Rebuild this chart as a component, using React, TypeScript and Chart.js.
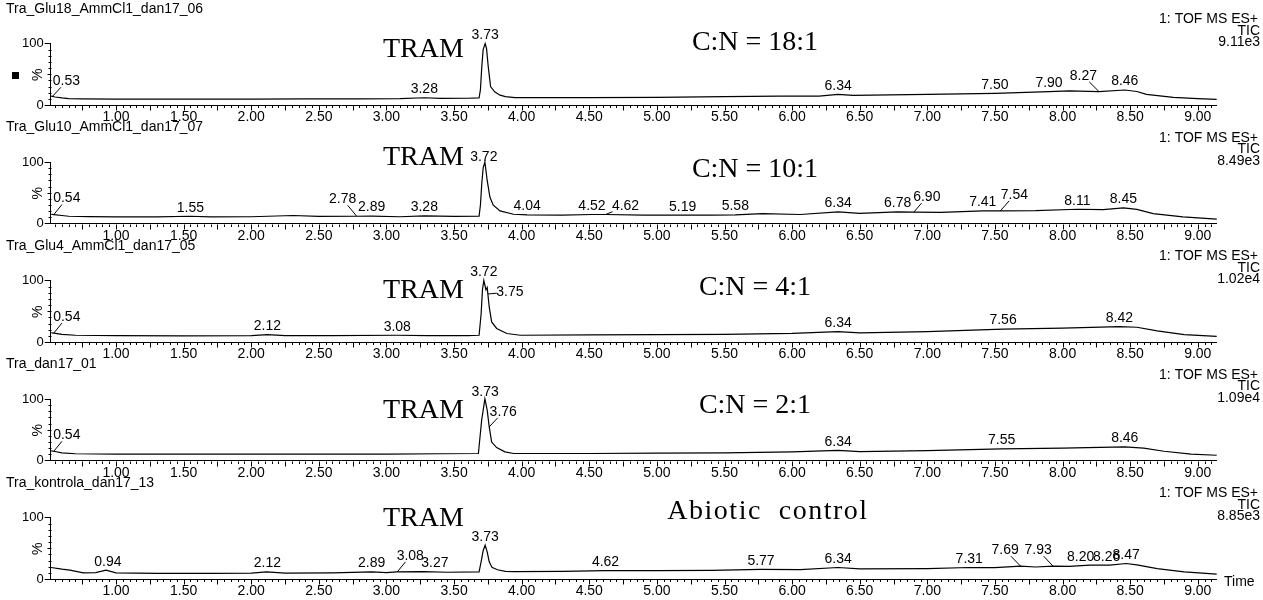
import React, { useEffect, useRef } from "react";
import { Chart, registerables } from "chart.js";

Chart.register(...registerables);

// ---------------- DATA ----------------
const sampleNames = [
  "Tra_Glu18_AmmCl1_dan17_06",
  "Tra_Glu10_AmmCl1_dan17_07",
  "Tra_Glu4_AmmCl1_dan17_05",
  "Tra_dan17_01",
  "Tra_kontrola_dan17_13",
];
const detectorLines = ["1: TOF MS ES+", "TIC"];
const intensityLabels = ["9.11e3", "8.49e3", "1.02e4", "1.09e4", "8.85e3"];
const compoundLabel = "TRAM";
const sampleCaptions = ["C:N = 18:1", "C:N = 10:1", "C:N = 4:1", "C:N = 2:1", "Abiotic  control"];
const xTickLabels = [1.0, 1.5, 2.0, 2.5, 3.0, 3.5, 4.0, 4.5, 5.0, 5.5, 6.0, 6.5, 7.0, 7.5, 8.0, 8.5, 9.0];
const yTickLabels = [0, 100];
const xAxisTitle = "Time";
const yAxisTitle = "%";

const times1 = [0.52, 0.55, 0.6, 0.65, 0.75, 1.0, 1.3, 1.6, 2.0, 2.4, 2.8, 3.1, 3.28, 3.4, 3.6, 3.685, 3.695, 3.705, 3.715, 3.73, 3.74, 3.753, 3.77, 3.8, 3.84, 3.88, 3.95, 4.5, 5.0, 5.5, 5.9, 6.2, 6.34, 6.45, 7.0, 7.5, 7.9, 8.05, 8.27, 8.46, 8.55, 8.62, 8.82, 9.0, 9.14];
const values1 = [14.5, 13, 11.5, 10.5, 10, 9.5, 9.5, 9.5, 9.6, 9.8, 10, 10.3, 11.8, 10.8, 11, 11.5, 25, 62, 90, 100, 92, 62, 30, 21.5, 16, 13.5, 12, 12, 12.5, 13.5, 14.5, 14.5, 17.3, 15.5, 17.3, 19, 21.7, 23, 21.7, 24.4, 22, 17.3, 12.5, 10.5, 9.2];
const peaks1 = [0.53, 3.28, 3.73, 6.34, 7.5, 7.9, 8.27, 8.46];

const times2 = [0.52, 0.54, 0.6, 0.65, 0.8, 1.0, 1.3, 1.55, 1.7, 2.0, 2.31, 2.5, 2.78, 2.89, 3.1, 3.28, 3.5, 3.685, 3.695, 3.705, 3.715, 3.728, 3.745, 3.765, 3.79, 3.84, 3.94, 4.04, 4.3, 4.52, 4.62, 4.9, 5.19, 5.4, 5.58, 5.78, 6.06, 6.34, 6.5, 6.78, 6.9, 7.1, 7.41, 7.54, 7.8, 8.11, 8.3, 8.45, 8.55, 8.67, 8.89, 9.14];
const values2 = [15, 14.5, 13, 11.8, 11.2, 10.8, 10.8, 11.8, 10.8, 11, 13, 11.5, 11.8, 12, 11, 12.3, 11.5, 12, 30, 65, 90, 100, 70, 43, 29.7, 20.5, 15, 14, 13.5, 14.6, 14.6, 13.5, 13.5, 13.5, 14, 16, 14.6, 18.8, 16.5, 18.8, 18.5, 18, 20.5, 20.5, 21, 23.2, 22.5, 25.3, 23, 16.2, 10.8, 7];
const peaks2 = [0.54, 1.55, 2.78, 2.89, 3.28, 3.72, 4.04, 4.52, 4.62, 5.19, 5.58, 6.34, 6.78, 6.9, 7.41, 7.54, 8.11, 8.45];

const times3 = [0.52, 0.54, 0.6, 0.7, 1.0, 1.5, 2.0, 2.12, 2.25, 2.6, 3.08, 3.3, 3.6, 3.685, 3.7, 3.71, 3.72, 3.736, 3.745, 3.76, 3.778, 3.815, 3.89, 3.99, 4.5, 5.0, 5.5, 6.0, 6.34, 6.5, 7.0, 7.56, 8.0, 8.42, 8.55, 8.7, 8.9, 9.14];
const values3 = [15, 14.5, 12.5, 11, 10.5, 10, 10.5, 12, 10.5, 10.5, 11, 10.5, 10.5, 11, 45, 85, 100, 85, 88.6, 57, 32.7, 22, 13.8, 11, 11.5, 12, 12.5, 14, 17, 15, 17, 21, 22.5, 25, 24, 18, 12, 9];
const peaks3 = [0.54, 2.12, 3.08, 3.72, 3.75, 6.34, 7.56, 8.42];

const times4 = [0.52, 0.54, 0.6, 0.7, 1.0, 1.5, 2.0, 2.5, 3.0, 3.4, 3.68, 3.704, 3.728, 3.745, 3.76, 3.778, 3.815, 3.876, 3.94, 4.5, 5.0, 5.5, 6.0, 6.34, 6.5, 7.0, 7.55, 8.0, 8.46, 8.6, 8.75, 8.95, 9.14];
const values4 = [15.5, 15, 12.5, 11, 10.5, 10.3, 10.3, 10.5, 10.5, 11, 11.4, 65.5, 100, 82, 54.6, 30, 21, 14, 11.4, 11.4, 12, 12.5, 14, 16.5, 14.5, 16, 19, 20, 22, 20, 15, 10.5, 8.5];
const peaks4 = [0.54, 3.73, 3.76, 6.34, 7.55, 8.46];

const times5 = [0.52, 0.6, 0.66, 0.758, 0.85, 0.926, 1.0, 1.3, 1.7, 2.0, 2.114, 2.25, 2.6, 2.893, 3.0, 3.075, 3.27, 3.45, 3.685, 3.7, 3.715, 3.73, 3.745, 3.76, 3.78, 3.82, 3.88, 3.95, 4.3, 4.62, 5.0, 5.4, 5.77, 6.06, 6.34, 6.5, 7.0, 7.31, 7.5, 7.69, 7.8, 7.93, 8.05, 8.2, 8.26, 8.35, 8.47, 8.55, 8.7, 8.9, 9.14];
const values5 = [18.7, 16, 14.3, 10, 10.5, 14.3, 10, 9, 9, 9.5, 11.5, 9.5, 10, 11.5, 10.5, 11.5, 12, 11, 11.5, 28, 46, 55, 44, 28, 19, 15, 12.5, 12, 12.5, 13.5, 13.5, 14, 15.5, 15.4, 18.7, 16.5, 17, 18.7, 18.5, 20.8, 19.5, 20.8, 20.5, 22.4, 22.5, 22.5, 25.2, 23, 17, 11.5, 7.8];
const peaks5 = [0.94, 2.12, 2.89, 3.08, 3.27, 3.73, 4.62, 5.77, 6.34, 7.31, 7.69, 7.93, 8.2, 8.26, 8.47];

// ---------------- LAYOUT / STYLE ----------------
const W = 1263;
const H = 600;
const PITCH = 118.5;
const AREA_TOP = 43.5;
const AREA_BOTTOM = 105;
const AXIS_LEFT = 50.7;
const AXIS_RIGHT = 1216.7;
const XAXIS_H = 24;
const X_MIN = 0.517;
const X_MAX = 9.14;
const SANS = "'Liberation Sans', Arial, Helvetica, sans-serif";
const SERIF = "'Liberation Serif', 'Times New Roman', Times, serif";

const titleY = 9;
const infoY = [19.5, 31, 42.5];
const tramBaseline = [57, 46.5, 61, 62, 52];
const captionBaseline = [50, 58, 58, 57, 45];
const captionCenterX = [755, 755, 755, 755, 768];
const captionSpacing = [0, 0, 0, 0, 1.5];

// label offsets [dx, dy, leader]
type Off = [number, number, boolean];
const labelOffsets: Record<string, Off>[] = [
  { "0.53": [14, -15, true], "8.27": [-15.7, -15.7, true] },
  { "0.54": [13, -16, true], "2.78": [-14, -17, true], "4.62": [20, -8, true], "6.90": [13, -15, true], "7.54": [14, -16, true] },
  { "0.54": [13, -16, true], "3.75": [22, -2, true] },
  { "0.54": [13, -16, true], "3.76": [14, -15, true] },
  { "3.08": [13, -16, true], "3.27": [12, -8, false], "7.69": [-15.5, -16, true], "7.93": [-15, -16, true], "8.20": [-9, -8, false], "8.26": [9, -8, false] },
];

const panels = [
  { t: times1, v: values1, p: peaks1 },
  { t: times2, v: values2, p: peaks2 },
  { t: times3, v: values3, p: peaks3 },
  { t: times4, v: values4, p: peaks4 },
  { t: times5, v: values5, p: peaks5 },
];

function valueAt(ts: number[], vs: number[], t: number) {
  if (t <= ts[0]) return vs[0];
  for (let k = 1; k < ts.length; k++) {
    if (t <= ts[k]) {
      const f = (t - ts[k - 1]) / (ts[k] - ts[k - 1]);
      return vs[k - 1] + f * (vs[k] - vs[k - 1]);
    }
  }
  return vs[vs.length - 1];
}

function decorPlugin(i: number) {
  return {
    id: "decor" + i,
    afterDraw(chart: any) {
      const ctx = chart.ctx as CanvasRenderingContext2D;
      const xs = chart.scales.x;
      const ys = chart.scales.y;
      const area = chart.chartArea;
      const base = i * PITCH;
      ctx.save();
      ctx.strokeStyle = "#000";
      ctx.fillStyle = "#000";
      ctx.lineWidth = 1;

      const by = Math.round(area.bottom) + 0.5;
      ctx.beginPath();
      for (let k = Math.ceil(X_MIN / 0.05); k * 0.05 <= X_MAX + 1e-9; k++) {
        const x = Math.round(xs.getPixelForValue(k * 0.05)) + 0.5;
        const len = k % 5 === 0 ? 5 : 2.5;
        ctx.moveTo(x, by);
        ctx.lineTo(x, by + len);
      }
      const lx = Math.round(area.left) + 0.5;
      for (let v = 10; v < 100; v += 10) {
        const y = Math.round(ys.getPixelForValue(v)) + 0.5;
        ctx.moveTo(lx - (v === 50 ? 4 : 3), y);
        ctx.lineTo(lx, y);
      }
      ctx.stroke();

      ctx.font = "14px " + SANS;
      ctx.textBaseline = "middle";
      ctx.textAlign = "left";
      ctx.fillText(sampleNames[i], 6, base + titleY);
      ctx.textAlign = "right";
      ctx.fillText(detectorLines[0], 1258, base + infoY[0]);
      ctx.fillText(detectorLines[1], 1260, base + infoY[1]);
      ctx.fillText(intensityLabels[i], 1260, base + infoY[2]);

      ctx.save();
      ctx.translate(38.5, ys.getPixelForValue(49));
      ctx.rotate(-Math.PI / 2);
      ctx.textAlign = "center";
      ctx.textBaseline = "middle";
      ctx.fillText(yAxisTitle, 0, 0);
      ctx.restore();

      if (i === 0) ctx.fillRect(12, base + 72, 7, 7);

      if (i === 4) {
        ctx.textAlign = "left";
        ctx.textBaseline = "middle";
        ctx.fillText(xAxisTitle, 1224, area.bottom + 3);
      }

      const pd = panels[i];
      const offs = labelOffsets[i];
      ctx.font = "14px " + SANS;
      ctx.textAlign = "center";
      ctx.textBaseline = "middle";
      for (const pt of pd.p) {
        const key = pt.toFixed(2);
        const off = offs[key] || [0, -8.5, false];
        const ax = xs.getPixelForValue(pt);
        const ay = ys.getPixelForValue(valueAt(pd.t, pd.v, pt));
        const cx = ax + off[0];
        const cy = ay + off[1];
        ctx.fillText(key, cx, cy);
        if (off[2]) {
          const s = Math.min(13 / Math.max(Math.abs(off[0]), 0.01), 6 / Math.max(Math.abs(off[1]), 0.01));
          ctx.beginPath();
          ctx.moveTo(ax, ay);
          ctx.lineTo(ax + (1 - s) * off[0], ay + (1 - s) * off[1]);
          ctx.stroke();
        }
      }

      ctx.font = "28px " + SERIF;
      ctx.textBaseline = "alphabetic";
      ctx.textAlign = "left";
      ctx.fillText(compoundLabel, 383, base + tramBaseline[i]);
      ctx.textAlign = "center";
      (ctx as any).letterSpacing = captionSpacing[i] + "px";
      ctx.fillText(sampleCaptions[i], captionCenterX[i], base + captionBaseline[i]);
      (ctx as any).letterSpacing = "0px";
      ctx.restore();
    },
  };
}

function makeConfig(i: number): any {
  const pd = panels[i];
  const top = i * PITCH + AREA_TOP;
  const bottom = i * PITCH + AREA_BOTTOM;
  return {
    type: "line",
    data: {
      datasets: [
        {
          data: pd.t.map((t, k) => ({ x: t, y: pd.v[k] })),
          borderColor: "#000",
          borderWidth: 1.2,
          pointRadius: 0,
          tension: 0,
          fill: false,
          clip: false,
        },
      ],
    },
    options: {
      animation: false,
      responsive: false,
      events: [],
      layout: { padding: { left: 0, right: W - AXIS_RIGHT, top, bottom: H - bottom - XAXIS_H } },
      plugins: { legend: { display: false }, tooltip: { enabled: false }, title: { display: false } },
      scales: {
        x: {
          type: "linear",
          min: X_MIN,
          max: X_MAX,
          afterFit: (s: any) => {
            s.height = XAXIS_H;
          },
          afterBuildTicks: (s: any) => {
            s.ticks = xTickLabels.map((v) => ({ value: v }));
          },
          grid: { display: true, drawOnChartArea: false, drawTicks: false },
          border: { display: true, color: "#000", width: 1 },
          ticks: {
            font: { family: SANS, size: 14 },
            color: "#000",
            padding: 4,
            maxRotation: 0,
            autoSkip: false,
            callback: (v: any) => Number(v).toFixed(2),
          },
        },
        y: {
          type: "linear",
          min: 0,
          max: 100,
          afterFit: (s: any) => {
            s.width = AXIS_LEFT;
          },
          afterBuildTicks: (s: any) => {
            s.ticks = yTickLabels.map((v) => ({ value: v }));
          },
          grid: { display: true, drawOnChartArea: false, drawTicks: true, tickLength: 6, color: "#000" },
          border: { display: true, color: "#000", width: 1 },
          ticks: {
            font: { family: SANS, size: 13 },
            color: "#000",
            padding: 1,
            callback: (v: any) => String(v),
          },
        },
      },
    },
    plugins: [decorPlugin(i)],
  };
}

export default function App() {
  const refs = useRef<(HTMLCanvasElement | null)[]>([]);
  useEffect(() => {
    const charts = panels.map((_, i) => new Chart(refs.current[i] as HTMLCanvasElement, makeConfig(i)));
    return () => charts.forEach((c) => c.destroy());
  }, []);
  return (
    <div style={{ position: "absolute", left: 0, top: 0, width: W, height: H, background: "#fff" }}>
      {panels.map((_, i) => (
        <canvas
          key={i}
          ref={(el) => {
            refs.current[i] = el;
          }}
          width={W}
          height={H}
          style={{ position: "absolute", left: 0, top: 0, width: W, height: H }}
        />
      ))}
    </div>
  );
}
